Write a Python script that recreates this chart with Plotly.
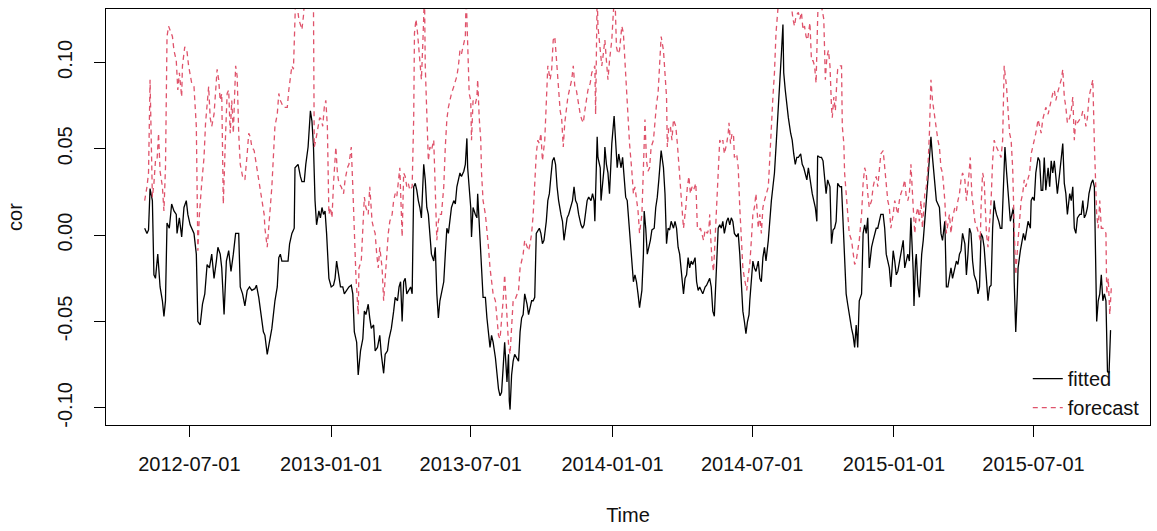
import pandas as pd
import plotly.graph_objects as go

# Day offsets are counted from this date
start_date = "2012-05-01"

fitted_day = [
    3, 6, 8, 10, 13, 15, 17, 20, 23, 26,
    28, 30, 32, 35, 38, 41, 44, 45, 48, 51,
    54, 57, 59, 62, 67, 70, 72, 75, 78, 81,
    84, 87, 90, 93, 96, 98, 101, 103, 106, 109,
    112, 115, 118, 121, 125, 127, 130, 133, 136, 139,
    142, 146, 148, 151, 154, 157, 159, 162, 168, 172,
    175, 177, 179, 181, 185, 189, 191, 194, 196, 197,
    198, 202, 205, 207, 210, 212, 215, 218, 220, 222,
    224, 226, 229, 231, 233, 235, 237, 239, 242, 245,
    248, 250, 252, 255, 257, 260, 262, 265, 268, 271,
    273, 275, 278, 280, 283, 286, 288, 290, 293, 295,
    297, 300, 302, 305, 308, 310, 313, 315, 318, 320,
    323, 326, 328, 331, 333, 335, 337, 339, 341, 343,
    345, 348, 350, 352, 354, 356, 358, 360, 362, 365,
    367, 369, 371, 373, 375, 378, 380, 382, 384, 386,
    388, 391, 393, 395, 397, 399, 401, 404, 406, 408,
    410, 412, 414, 417, 419, 421, 422, 424, 426, 427,
    429, 432, 434, 435, 437, 439, 440, 442, 445, 447,
    449, 451, 453, 455, 458, 460, 462, 464, 466, 468,
    470, 473, 475, 476, 477, 479, 481, 483, 486, 488,
    490, 492, 494, 496, 499, 501, 503, 505, 507, 509,
    511, 513, 515, 517, 519, 521, 524, 526, 528, 530,
    532, 534, 536, 538, 540, 543, 545, 547, 549, 551,
    553, 556, 558, 560, 562, 564, 566, 569, 571, 573,
    575, 577, 579, 582, 584, 586, 587, 588, 590, 591,
    594, 595, 597, 599, 600, 602,
    604, 606, 608, 609, 612, 614, 616, 618, 621, 623,
    625, 627, 629, 632, 634, 635, 637, 639, 641, 643,
    645, 648, 650, 651, 653, 655, 657, 659, 661, 664,
    666, 668, 670, 672, 673, 676, 678, 680, 682, 684,
    686, 689, 691, 693, 695, 697, 699, 702, 704, 706,
    708, 710, 712, 714, 717, 719, 721, 723, 725, 727,
    730, 732, 734, 736, 738, 740, 742, 745, 747, 749,
    751, 753, 755, 758, 760, 762, 764, 766, 768, 771,
    773, 775, 777, 779, 781, 783, 785, 787, 788, 790,
    792, 794, 796, 799, 801, 803, 805, 807, 809, 812,
    814, 816, 818, 820, 822,
    827, 829, 831, 832, 834, 836, 838, 841, 843, 845,
    847, 849, 851, 854, 856, 858, 860, 862, 864, 866,
    869, 871, 873, 875, 876, 879, 881, 883, 885, 887,
    889, 892, 894, 896, 898, 900, 902, 905, 907, 909,
    911, 913, 915, 917, 920, 922, 924, 926, 928, 930,
    933, 935, 937, 939, 941, 943, 946, 948, 950, 952,
    954, 956, 958, 961, 963, 965, 967, 969, 971, 974,
    976, 978, 980, 982, 984, 987, 989, 991, 993, 995,
    997, 1000, 1001, 1003, 1004, 1006, 1008, 1010, 1011, 1013,
    1015, 1017, 1019, 1021, 1023, 1025, 1028, 1030, 1032, 1034,
    1036, 1038, 1041, 1043,
    1045, 1047, 1049, 1051, 1054, 1056, 1058, 1060, 1062, 1064,
    1067, 1069, 1071, 1073, 1075, 1077, 1079, 1082, 1084, 1086,
    1088, 1090, 1092, 1095, 1097, 1099, 1101, 1103, 1105, 1106,
    1108, 1111, 1113, 1115, 1117, 1119, 1121, 1124, 1126, 1128,
    1130, 1131, 1133, 1135, 1136, 1139, 1141, 1143, 1145, 1147,
    1149, 1152, 1153, 1155, 1157, 1159, 1162, 1164, 1166, 1168,
    1170, 1172, 1175, 1177, 1179, 1181, 1183, 1185, 1187, 1190,
    1192, 1194, 1196, 1198, 1200, 1203, 1205, 1207, 1209, 1211,
    1213, 1216, 1218, 1220, 1222, 1224, 1226, 1228, 1231, 1233,
    1235, 1236, 1237, 1238, 1240, 1242, 1244, 1246, 1248, 1250,
    1252, 1254, 1256,
]

fitted = [
    0.004, 0.001, 0.003, 0.027, 0.020, -0.023, -0.025, -0.011, -0.030, -0.038,
    -0.047, -0.038, 0.007, 0.004, 0.018, 0.014, 0.012, 0.001, 0.010, -0.001,
    0.016, 0.020, 0.012, 0.006, 0.001, -0.011, -0.050, -0.052, -0.040, -0.034,
    -0.017, -0.019, -0.011, -0.025, -0.015, -0.007, -0.011, -0.019, -0.046, -0.015,
    -0.009, -0.021, -0.011, 0.001, 0.001, -0.030, -0.034, -0.041, -0.032, -0.030,
    -0.032, -0.031, -0.029, -0.036, -0.046, -0.056, -0.058, -0.069, -0.054, -0.038,
    -0.030, -0.013, -0.011, -0.015, -0.015, -0.015, -0.005, 0.001, 0.003, 0.004,
    0.039, 0.041, 0.034, 0.031, 0.031, 0.041, 0.051, 0.072, 0.066, 0.051,
    0.020, 0.006, 0.014, 0.010, 0.016, 0.012, 0.014, 0.001, -0.025, -0.030,
    -0.029, -0.025, -0.015, -0.025, -0.030, -0.030, -0.034, -0.032, -0.030, -0.029,
    -0.034, -0.056, -0.062, -0.081, -0.067, -0.060, -0.044, -0.046, -0.040, -0.048,
    -0.054, -0.052, -0.067, -0.065, -0.058, -0.069, -0.080, -0.069, -0.067, -0.060,
    -0.054, -0.044, -0.036, -0.038, -0.030, -0.027, -0.050, -0.027, -0.025, -0.034,
    -0.032, -0.030, -0.034, 0.028, 0.030, 0.026, 0.020, 0.016, 0.010, 0.041,
    0.032, 0.016, 0.012, 0.001, -0.011, -0.015, -0.007, -0.034, -0.048, -0.038,
    -0.034, -0.027, -0.011, 0.004, 0.001, 0.010, 0.016, 0.020, 0.018, 0.028,
    0.032, 0.036, 0.034, 0.037, 0.041, 0.056, 0.039, 0.028, 0.016, -0.001,
    0.016, 0.012, 0.010, 0.024, 0.004, -0.007, -0.019, -0.036, -0.036, -0.048,
    -0.056, -0.065, -0.058, -0.062, -0.071, -0.079, -0.089, -0.093, -0.091, -0.077,
    -0.062, -0.085, -0.069, -0.096, -0.101, -0.081, -0.073, -0.069, -0.071, -0.073,
    -0.056, -0.048, -0.046, -0.034, -0.040, -0.046, -0.042, -0.038, -0.038, -0.036,
    0.001, 0.003, 0.004, 0.001, -0.005, -0.003, 0.008, 0.020, 0.024, 0.034,
    0.043, 0.045, 0.041, 0.028, 0.020, 0.012, 0.008, -0.003, 0.004, 0.010,
    0.012, 0.016, 0.020, 0.028, 0.020, 0.018, 0.012, 0.006, 0.004, 0.006,
    0.012, 0.020, 0.022, 0.020, 0.024, 0.020, 0.008, 0.028, 0.057, 0.045,
    0.039, 0.020, 0.032, 0.039, 0.051, 0.041,
    0.036, 0.024, 0.043, 0.053, 0.069, 0.055, 0.039, 0.047, 0.039, 0.045,
    0.034, 0.022, 0.020, 0.003, -0.011, -0.017, -0.027, -0.023, -0.027, -0.034,
    -0.042, -0.032, -0.011, 0.014, 0.004, -0.011, -0.007, -0.003, 0.003, 0.004,
    0.016, 0.022, 0.032, 0.041, 0.049, 0.039, 0.024, -0.005, 0.004, 0.003,
    0.008, 0.004, 0.008, 0.004, -0.007, -0.011, -0.019, -0.034, -0.025, -0.023,
    -0.013, -0.019, -0.015, -0.017, -0.013, -0.027, -0.032, -0.030, -0.032, -0.034,
    -0.030, -0.029, -0.027, -0.025, -0.030, -0.044, -0.047, -0.019, 0.004, 0.006,
    0.004, 0.008, 0.001, 0.008, 0.010, 0.006, 0.010, 0.008, 0.001, -0.001,
    0.001, -0.011, -0.032, -0.044, -0.050, -0.057, -0.050, -0.046, -0.038, -0.027,
    -0.015, -0.019, -0.021, -0.015, -0.025, -0.027, -0.013, -0.007, -0.015, -0.003,
    0.010, 0.020, 0.028, 0.036, 0.051,
    0.086, 0.105, 0.122, 0.094, 0.084, 0.074, 0.068, 0.059, 0.055, 0.047,
    0.041, 0.045, 0.045, 0.047, 0.041, 0.039, 0.036, 0.032, 0.039, 0.032,
    0.024, 0.020, 0.016, 0.008, 0.046, 0.045, 0.045, 0.043, 0.032, 0.024,
    0.032, 0.028, -0.005, 0.003, 0.004, 0.008, 0.030, 0.028, 0.028, 0.004,
    -0.019, -0.034, -0.040, -0.046, -0.054, -0.058, -0.065, -0.052, -0.065, -0.038,
    -0.034, 0.001, 0.006, 0.001, 0.010, -0.019, -0.007, -0.003, 0.001, 0.004,
    0.004, 0.008, 0.012, 0.012, 0.004, -0.011, -0.015, -0.019, -0.030, -0.009,
    -0.015, -0.023, -0.021, -0.015, -0.011, -0.003, -0.019, -0.015, -0.011, -0.015,
    0.010, -0.021, -0.041, -0.015, -0.011, -0.029, -0.036, -0.019, -0.011, -0.003,
    0.012, 0.020, 0.032, 0.043, 0.057, 0.045, 0.028, 0.020, 0.018, 0.016,
    0.001, -0.003, 0.008, -0.030,
    -0.030, -0.023, -0.019, -0.025, -0.019, -0.015, -0.017, -0.011, -0.009, 0.001,
    -0.005, -0.023, -0.011, 0.004, 0.001, -0.015, -0.023, -0.027, -0.034, -0.030,
    0.001, -0.001, -0.007, -0.030, -0.038, -0.030, -0.029, 0.004, 0.020, 0.016,
    0.012, 0.008, 0.004, 0.004, 0.028, 0.051, 0.037, 0.020, 0.008, 0.012,
    0.016, -0.027, -0.056, -0.034, -0.019, -0.009, -0.003, 0.001, -0.003, 0.004,
    0.008, 0.004, 0.020, 0.022, 0.020, 0.036, 0.045, 0.043, 0.026, 0.026,
    0.045, 0.026, 0.039, 0.028, 0.043, 0.036, 0.043, 0.034, 0.024, 0.036,
    0.043, 0.053, 0.030, 0.024, 0.012, 0.024, 0.020, 0.028, 0.004, 0.001,
    0.010, 0.012, 0.012, 0.020, 0.010, 0.012, 0.016, 0.024, 0.030, 0.032,
    0.028, 0.001, -0.034, -0.050, -0.038, -0.034, -0.023, -0.038, -0.034, -0.038,
    -0.079, -0.080, -0.055,
]

forecast_day = [
    3, 6, 8, 10, 13, 15, 17, 19, 21, 23,
    26, 28, 30, 32, 34, 36, 39, 41, 44, 46,
    48, 51, 52, 55, 58, 60, 64, 67, 70, 72,
    74, 77, 80, 82, 84, 86, 88, 90, 93, 95,
    97, 99, 101, 103, 105, 108, 110, 112, 114, 116,
    118, 121, 123, 125, 127, 130, 133, 136, 138, 140,
    142, 145, 147, 150, 153, 155, 158, 159, 162,
    168, 170, 172, 175, 177, 179, 181, 183, 185, 188,
    190, 192, 194, 196, 197, 199, 203, 205, 207, 209,
    211, 216, 220, 222, 223, 225, 228, 230, 232, 234,
    236, 238, 240, 242, 244, 246, 248, 251, 253, 255,
    258, 261, 263, 266, 268, 271, 273, 275, 277, 280,
    281, 284, 286, 288, 290, 293, 295, 298, 300, 302,
    304, 306, 308, 311, 313, 315, 317, 319, 321, 324,
    326, 328, 330, 332, 334, 337, 339, 341, 343, 345,
    347, 350, 352, 353, 355, 357, 360, 362, 364, 366,
    367, 369, 371, 373, 375, 378, 380, 382, 384, 386,
    388, 391, 393, 395, 397, 399, 401, 404, 406, 408,
    410, 412, 414, 417, 419, 420, 422, 424, 426, 427,
    429, 432, 434, 435, 437, 439, 440, 442, 445, 447,
    449, 451, 453, 455, 458, 460, 462, 464, 466, 468,
    470, 473, 475, 477, 479, 481, 483, 486, 488, 490,
    492, 494, 496, 499, 501, 503, 505, 507, 509, 511,
    513, 515, 517, 519, 522, 524, 526, 529, 531, 533,
    535, 537, 540, 542, 544, 546, 548, 550, 552, 555,
    557, 559, 561, 563, 565, 568, 570, 572, 574, 576,
    578, 581, 583, 585, 587, 588, 590, 591, 594, 596,
    598, 600, 602,
    604, 606, 609, 611, 613, 615, 617, 619, 622, 624,
    626, 628, 630, 632, 635, 637, 639, 641, 643, 645,
    648, 650, 652, 654, 656, 658, 660, 663, 665, 667,
    669, 671, 673, 676, 678, 680, 681, 683, 685, 687,
    689, 692, 694, 696, 698, 700, 702, 705, 707, 709,
    711, 713, 715, 718, 720, 722, 724, 726, 728, 730,
    733, 735, 736, 737, 739, 741, 742, 745, 747, 749,
    751, 753, 755, 758, 760, 761, 763, 765, 767, 768,
    771, 773, 775, 777, 779, 781, 784, 786, 788, 790,
    792, 794, 796, 799, 801, 803, 805, 807, 809, 812,
    814, 816, 818, 820, 822,
    827, 831, 835, 840, 843, 844, 846, 848, 851, 853,
    855, 857, 859, 861, 863, 866, 868, 870, 872, 874,
    876, 877, 880, 882, 884, 886, 888, 890, 892, 894,
    895, 897, 899, 901, 902, 905, 907, 908, 910, 911,
    913, 915, 917, 920, 922, 924, 926, 928, 930, 933,
    935, 937, 939, 941, 943, 946, 948, 950, 952, 954,
    956, 958, 961, 963, 965, 967, 969, 971, 974, 976,
    978, 980, 982, 984, 987, 989, 991, 993, 995, 997,
    1000, 1002, 1004, 1006, 1008, 1010, 1012, 1015, 1017, 1019,
    1021, 1023, 1025, 1028, 1030, 1032, 1034, 1036, 1038, 1041,
    1043,
    1045, 1047, 1049, 1051, 1054, 1056, 1058, 1060, 1062, 1064,
    1067, 1069, 1071, 1073, 1074, 1076, 1078, 1080, 1083, 1085,
    1087, 1088, 1090, 1092, 1095, 1097, 1099, 1101, 1103, 1105,
    1108, 1110, 1112, 1114, 1116, 1118, 1121, 1123, 1125, 1127,
    1129, 1131, 1133, 1136, 1138, 1140, 1142, 1144, 1146, 1149,
    1151, 1153, 1155, 1157, 1159, 1162, 1164, 1166, 1168, 1170,
    1172, 1175, 1177, 1179, 1181, 1183, 1185, 1187, 1190, 1192,
    1194, 1196, 1198, 1200, 1203, 1205, 1207, 1209, 1211, 1213,
    1216, 1218, 1220, 1222, 1224, 1226, 1228, 1231, 1233, 1235,
    1237, 1238, 1240, 1242, 1244, 1246, 1248, 1250, 1251, 1253,
    1255, 1257,
]

forecast = [
    0.020, 0.028, 0.036, 0.090, 0.022, 0.030, 0.043, 0.043, 0.059, 0.037,
    0.028, 0.014, 0.039, 0.115, 0.121, 0.119, 0.115, 0.107, 0.101, 0.084,
    0.094, 0.080, 0.098, 0.109, 0.106, 0.098, 0.088, 0.086, 0.063, -0.009,
    0.012, 0.030, 0.045, 0.065, 0.074, 0.086, 0.068, 0.063, 0.070, 0.084,
    0.096, 0.090, 0.078, 0.082, 0.018, 0.059, 0.082, 0.084, 0.059, 0.078,
    0.059, 0.098, 0.092, 0.059, 0.041, 0.034, 0.032, 0.047, 0.059, 0.057,
    0.051, 0.049, 0.043, 0.036, 0.026, 0.020, 0.012, 0.004, -0.007,
    0.028, 0.045, 0.063, 0.070, 0.082, 0.078, 0.076, 0.074, 0.074, 0.074,
    0.084, 0.092, 0.098, 0.096, 0.117, 0.140, 0.125, 0.121, 0.119, 0.127,
    0.140, 0.150, 0.145, 0.131, 0.051, 0.055, 0.063, 0.068, 0.067, 0.063,
    0.074, 0.078, 0.063, 0.012, 0.016, 0.010, 0.030, 0.051, 0.036, 0.030,
    0.028, 0.024, 0.032, 0.039, 0.041, 0.051, 0.028, 0.001, -0.023, -0.046,
    -0.019, -0.015, 0.008, 0.022, 0.016, 0.012, 0.028, 0.008, 0.004, 0.001,
    -0.011, -0.019, -0.007, -0.019, -0.038, -0.023, -0.011, 0.001, 0.008, 0.012,
    0.020, 0.024, 0.022, 0.032, 0.039, -0.001, 0.036, 0.034, 0.028, 0.030,
    0.026, 0.028, 0.068, 0.117, 0.125, 0.117, 0.101, 0.090, 0.113, 0.140,
    0.098, 0.072, 0.043, 0.051, 0.049, 0.055, 0.020, -0.003, 0.008, 0.012,
    0.012, 0.028, 0.051, 0.067, 0.074, 0.078, 0.082, 0.086, 0.090, 0.092,
    0.098, 0.107, 0.105, 0.111, 0.115, 0.140, 0.105, 0.082, 0.078, 0.055,
    0.078, 0.076, 0.080, 0.090, 0.068, 0.055, 0.036, 0.020, 0.012, 0.004,
    -0.007, -0.019, -0.027, -0.034, -0.038, -0.050, -0.058, -0.060, -0.050, -0.038,
    -0.023, -0.050, -0.063, -0.069, -0.050, -0.038, -0.038, -0.034, -0.032, -0.019,
    -0.015, -0.011, -0.003, -0.007, -0.009, -0.005, 0.001, 0.012, 0.028, 0.047,
    0.055, 0.053, 0.059, 0.043, 0.055, 0.082, 0.098, 0.090, 0.096, 0.113,
    0.115, 0.103, 0.086, 0.072, 0.067, 0.051, 0.065, 0.074, 0.080, 0.086,
    0.090, 0.098, 0.086, 0.084, 0.078, 0.070, 0.067, 0.065, 0.072, 0.078,
    0.084, 0.088, 0.094, 0.096, 0.098, 0.070, 0.140, 0.121, 0.109, 0.098,
    0.105, 0.113, 0.101,
    0.090, 0.101, 0.113, 0.129, 0.140, 0.109, 0.105, 0.107, 0.121, 0.117,
    0.101, 0.088, 0.070, 0.053, 0.037, 0.024, 0.028, 0.020, 0.014, 0.001,
    0.012, 0.039, 0.067, 0.043, 0.037, 0.039, 0.051, 0.055, 0.068, 0.076,
    0.082, 0.098, 0.115, 0.107, 0.092, 0.080, 0.051, 0.063, 0.063, 0.055,
    0.067, 0.063, 0.053, 0.039, 0.028, 0.016, 0.004, 0.016, 0.028, 0.034,
    0.024, 0.028, 0.026, 0.030, 0.004, 0.003, 0.004, 0.001, -0.003, 0.003,
    0.001, 0.004, 0.012, 0.001, -0.015, -0.021, -0.011, 0.012, 0.039, 0.055,
    0.053, 0.055, 0.047, 0.053, 0.059, 0.065, 0.053, 0.059, 0.057, 0.045,
    0.047, 0.039, 0.016, -0.007, -0.019, -0.025, -0.032, -0.023, -0.017, -0.003,
    0.012, 0.016, 0.024, 0.004, 0.012, 0.001, 0.016, 0.020, 0.024, 0.028,
    0.045, 0.067, 0.080, 0.094, 0.117,
    0.145, 0.160, 0.150, 0.140, 0.129, 0.125, 0.121, 0.127, 0.129, 0.125,
    0.129, 0.119, 0.121, 0.115, 0.113, 0.123, 0.101, 0.101, 0.098, 0.088,
    0.125, 0.140, 0.135, 0.129, 0.125, 0.090, 0.103, 0.107, 0.098, 0.074,
    0.068, 0.080, 0.072, 0.090, 0.096, 0.098, 0.098, 0.063, 0.053, 0.036,
    0.024, 0.012, 0.001, -0.003, -0.011, -0.017, -0.015, -0.009, -0.003, 0.012,
    0.030, 0.039, 0.036, 0.024, 0.016, 0.020, 0.028, 0.032, 0.034, 0.028,
    0.037, 0.047, 0.049, 0.039, 0.028, 0.020, 0.016, 0.004, 0.012, 0.020,
    0.016, 0.012, 0.020, 0.024, 0.028, 0.032, 0.022, 0.020, 0.024, 0.041,
    0.016, 0.001, 0.012, 0.016, 0.008, 0.020, 0.004, 0.024, 0.028, 0.039,
    0.059, 0.090, 0.078, 0.068, 0.059, 0.055, 0.051, 0.039, 0.036, 0.020,
    0.001,
    0.008, 0.012, 0.001, 0.010, 0.016, 0.014, 0.020, 0.024, 0.032, 0.036,
    0.032, 0.020, 0.028, 0.037, 0.045, 0.024, 0.016, 0.008, 0.004, 0.001,
    -0.003, 0.016, 0.036, 0.032, 0.001, -0.007, 0.004, 0.020, 0.043, 0.055,
    0.051, 0.049, 0.047, 0.045, 0.055, 0.098, 0.086, 0.070, 0.059, 0.055,
    0.039, 0.004, -0.023, -0.003, 0.012, 0.020, 0.024, 0.032, 0.028, 0.032,
    0.036, 0.047, 0.051, 0.055, 0.059, 0.067, 0.063, 0.059, 0.067, 0.070,
    0.074, 0.070, 0.074, 0.078, 0.082, 0.084, 0.078, 0.082, 0.086, 0.090,
    0.096, 0.080, 0.074, 0.065, 0.068, 0.072, 0.080, 0.055, 0.067, 0.065,
    0.067, 0.068, 0.072, 0.070, 0.063, 0.068, 0.080, 0.086, 0.090, 0.053,
    0.016, 0.012, 0.004, 0.020, 0.004, 0.004, 0.003, 0.001, -0.034, -0.025,
    -0.046, -0.030,
]

date_ticks = ["2012-07-01", "2013-01-01", "2013-07-01", "2014-01-01",
              "2014-07-01", "2015-01-01", "2015-07-01"]
cor_ticks = [-0.10, -0.05, 0.00, 0.05, 0.10]
cor_labels = ["-0.10", "-0.05", "0.00", "0.05", "0.10"]

assert len(fitted_day) == len(fitted)
assert len(forecast_day) == len(forecast)

origin = pd.Timestamp(start_date)
fitted_x = origin + pd.to_timedelta(fitted_day, unit="D")
forecast_x = origin + pd.to_timedelta(forecast_day, unit="D")

# Base-R style axis limits: data range padded by 4% on each side;
# the y limits follow the fitted series, so the forecast may run off the top.
d_lo = min(fitted_day + forecast_day)
d_hi = max(fitted_day + forecast_day)
d_pad = 0.04 * (d_hi - d_lo)
x_range = [(origin + pd.Timedelta(days=d_lo - d_pad)).strftime("%Y-%m-%d %H:%M"),
           (origin + pd.Timedelta(days=d_hi + d_pad)).strftime("%Y-%m-%d %H:%M")]
y_lo, y_hi = min(fitted), max(fitted)
y_pad = 0.04 * (y_hi - y_lo)
y_range = [y_lo - y_pad, y_hi + y_pad]

FONT = "Liberation Sans, Arial, Helvetica, sans-serif"
INK = "#111111"
RED = "#DF536B"

fig = go.Figure()
fig.add_trace(go.Scatter(
    x=fitted_x, y=fitted, mode="lines", name="fitted",
    line=dict(color="black", width=1.3),
))
fig.add_trace(go.Scatter(
    x=forecast_x, y=forecast, mode="lines", name="forecast",
    line=dict(color=RED, width=1.3, dash="5px,4px"),
))

axis_common = dict(
    showgrid=False, zeroline=False,
    showline=True, linecolor="black", linewidth=1, mirror=True,
    ticks="outside", ticklen=11, tickwidth=1, tickcolor="black",
    tickfont=dict(family=FONT, size=20, color=INK),
    automargin=False,
)

fig.update_layout(
    width=1157, height=531,
    margin=dict(l=106, r=7, t=9, b=106),
    paper_bgcolor="white", plot_bgcolor="white",
    font=dict(family=FONT, size=20, color=INK),
    showlegend=True,
    legend=dict(
        x=0.995, y=-0.005, xanchor="right", yanchor="bottom",
        bgcolor="rgba(0,0,0,0)", borderwidth=0,
        font=dict(family=FONT, size=20, color=INK),
        itemwidth=30, tracegroupgap=0,
    ),
    xaxis=dict(
        type="date", range=x_range,
        tickmode="array", tickvals=date_ticks, ticktext=date_ticks,
        ticklabelstandoff=10,
        title=dict(text="Time", font=dict(family=FONT, size=20, color=INK), standoff=33),
        **axis_common,
    ),
    yaxis=dict(
        range=y_range,
        tickmode="array", tickvals=cor_ticks, ticktext=cor_labels,
        tickangle=-90, ticklabelstandoff=14,
        title=dict(text="cor", font=dict(family=FONT, size=20, color=INK), standoff=26),
        **axis_common,
    ),
)

fig.write_html("out.html")
